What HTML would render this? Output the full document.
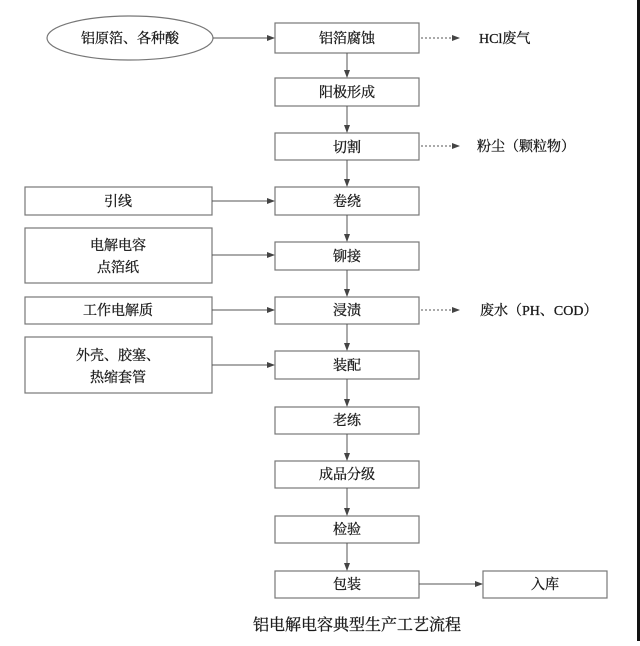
<!DOCTYPE html>
<html><head><meta charset="utf-8"><style>
body{margin:0;background:#fff;}
svg text{font-family:"Liberation Serif","Noto Serif CJK SC","Noto Sans CJK SC",serif;font-size:14px;fill:#1a1a1a;stroke:#1a1a1a;stroke-width:0.3;text-anchor:middle;}
</style></head><body>
<svg width="640" height="641" viewBox="0 0 640 641" xmlns="http://www.w3.org/2000/svg">
<defs>
<marker id="a" markerWidth="8" markerHeight="8" refX="7" refY="4" orient="auto" markerUnits="userSpaceOnUse"><path d="M0,1 L8,4 L0,7 Z" fill="#444"/></marker>
</defs>
<rect x="0" y="0" width="640" height="641" fill="#fff"/>
<rect x="637" y="0" width="3" height="641" fill="#111"/>
<g fill="#fff" stroke="#777" stroke-width="1.2">
<ellipse cx="130" cy="38" rx="83" ry="22"/>
<rect x="275" y="23" width="144" height="30"/>
<rect x="275" y="78" width="144" height="28"/>
<rect x="275" y="133" width="144" height="27"/>
<rect x="275" y="187" width="144" height="28"/>
<rect x="275" y="242" width="144" height="28"/>
<rect x="275" y="297" width="144" height="27"/>
<rect x="275" y="351" width="144" height="28"/>
<rect x="275" y="407" width="144" height="27"/>
<rect x="275" y="461" width="144" height="27"/>
<rect x="275" y="516" width="144" height="27"/>
<rect x="275" y="571" width="144" height="27"/>
<rect x="483" y="571" width="124" height="27"/>
<rect x="25" y="187" width="187" height="28"/>
<rect x="25" y="228" width="187" height="55"/>
<rect x="25" y="297" width="187" height="27"/>
<rect x="25" y="337" width="187" height="56"/>
</g>
<g stroke="#555" stroke-width="1" marker-end="url(#a)">
<line x1="213" y1="38" x2="274" y2="38"/>
<line x1="347" y1="53" x2="347" y2="77"/>
<line x1="347" y1="106" x2="347" y2="132"/>
<line x1="347" y1="160" x2="347" y2="186"/>
<line x1="347" y1="215" x2="347" y2="241"/>
<line x1="347" y1="270" x2="347" y2="296"/>
<line x1="347" y1="324" x2="347" y2="350"/>
<line x1="347" y1="379" x2="347" y2="406"/>
<line x1="347" y1="434" x2="347" y2="460"/>
<line x1="347" y1="488" x2="347" y2="515"/>
<line x1="347" y1="543" x2="347" y2="570"/>
<line x1="212" y1="201" x2="274" y2="201"/>
<line x1="212" y1="255" x2="274" y2="255"/>
<line x1="212" y1="310" x2="274" y2="310"/>
<line x1="212" y1="365" x2="274" y2="365"/>
<line x1="419" y1="584" x2="482" y2="584"/>
<line x1="421" y1="38" x2="459" y2="38" stroke-dasharray="2,2"/>
<line x1="421" y1="146" x2="459" y2="146" stroke-dasharray="2,2"/>
<line x1="421" y1="310" x2="459" y2="310" stroke-dasharray="2,2"/>
</g>
<text x="130" y="43">铝原箔、各种酸</text>
<text x="347" y="43">铝箔腐蚀</text>
<text x="347" y="97">阳极形成</text>
<text x="347" y="152">切割</text>
<text x="347" y="206">卷绕</text>
<text x="347" y="261">铆接</text>
<text x="347" y="315">浸渍</text>
<text x="347" y="370">装配</text>
<text x="347" y="425">老练</text>
<text x="347" y="479">成品分级</text>
<text x="347" y="534">检验</text>
<text x="347" y="589">包装</text>
<text x="545" y="589">入库</text>
<text x="118" y="206">引线</text>
<text x="118" y="250">电解电容</text>
<text x="118" y="272">点箔纸</text>
<text x="118" y="315">工作电解质</text>
<text x="118" y="360">外壳、胶塞、</text>
<text x="118" y="382">热缩套管</text>
<text x="479" y="43" style="text-anchor:start">HCl废气</text>
<text x="477" y="151" style="text-anchor:start">粉尘（颗粒物）</text>
<text x="480" y="315" style="text-anchor:start">废水（PH、COD）</text>
<text x="357" y="630" style="font-size:16px">铝电解电容典型生产工艺流程</text>
</svg>
</body></html>
